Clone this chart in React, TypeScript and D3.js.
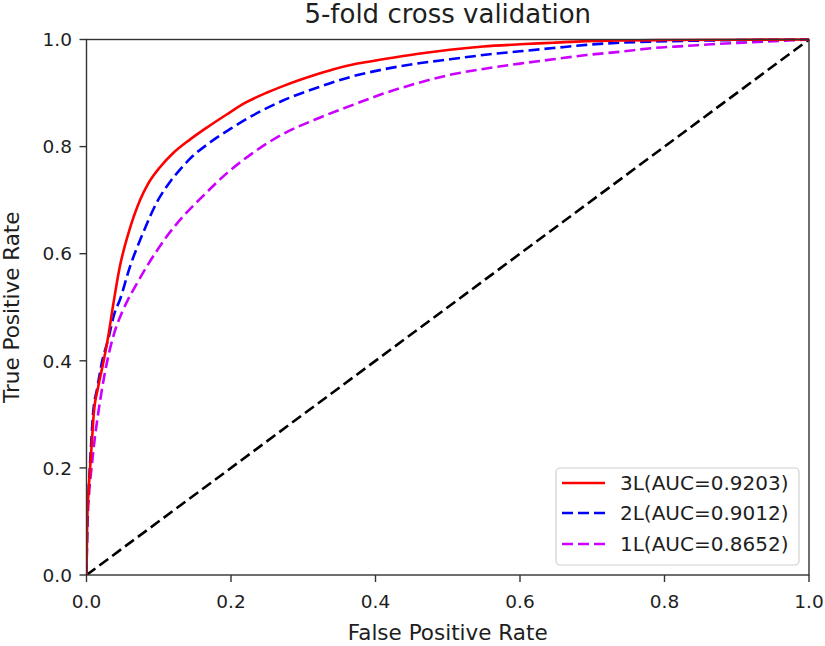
import React from "react";
import * as d3 from "d3";

const title = "5-fold cross validation";
const xLabel = "False Positive Rate";
const yLabel = "True Positive Rate";
const ticks = [0, 0.2, 0.4, 0.6, 0.8, 1.0];

const seriesNames = ["3L(AUC=0.9203)", "2L(AUC=0.9012)", "1L(AUC=0.8652)"];

const roc3L: [number, number][] = [
  [0, 0], [0.001, 0.1], [0.003, 0.16], [0.005, 0.2], [0.008, 0.26], [0.01, 0.3],
  [0.016, 0.35], [0.023, 0.395], [0.03, 0.445], [0.037, 0.505], [0.046, 0.575],
  [0.058, 0.638], [0.074, 0.7], [0.085, 0.73], [0.102, 0.762], [0.12, 0.788],
  [0.143, 0.813], [0.166, 0.835], [0.194, 0.86], [0.22, 0.882], [0.25, 0.901],
  [0.272, 0.913], [0.319, 0.935], [0.341, 0.944], [0.375, 0.955], [0.41, 0.963],
  [0.457, 0.973], [0.503, 0.981], [0.549, 0.987], [0.6, 0.991], [0.646, 0.994],
  [0.692, 0.997], [0.738, 0.998], [0.8, 0.999], [0.9, 0.9995], [1, 1],
];

const roc2L: [number, number][] = [
  [0, 0], [0.001, 0.1], [0.003, 0.16], [0.005, 0.21], [0.009, 0.3], [0.015, 0.35],
  [0.021, 0.395], [0.03, 0.44], [0.039, 0.49], [0.046, 0.513], [0.06, 0.575],
  [0.078, 0.638], [0.099, 0.7], [0.115, 0.733], [0.13, 0.758], [0.143, 0.777],
  [0.168, 0.805], [0.199, 0.833], [0.226, 0.855], [0.272, 0.886], [0.319, 0.91],
  [0.365, 0.93], [0.41, 0.944], [0.457, 0.955], [0.503, 0.963], [0.549, 0.971],
  [0.6, 0.978], [0.646, 0.984], [0.692, 0.99], [0.738, 0.994], [0.784, 0.996],
  [0.85, 0.998], [0.92, 0.999], [1, 1],
];

const roc1L: [number, number][] = [
  [0, 0], [0.001, 0.08], [0.002, 0.116], [0.004, 0.16], [0.007, 0.2], [0.011, 0.25],
  [0.016, 0.3], [0.028, 0.395], [0.038, 0.45], [0.049, 0.49], [0.057, 0.513],
  [0.07, 0.545], [0.083, 0.575], [0.111, 0.632], [0.134, 0.67], [0.16, 0.706],
  [0.194, 0.75], [0.228, 0.786], [0.27, 0.822], [0.319, 0.852], [0.365, 0.876],
  [0.411, 0.899], [0.457, 0.918], [0.503, 0.934], [0.549, 0.945], [0.6, 0.955],
  [0.646, 0.963], [0.692, 0.971], [0.738, 0.977], [0.784, 0.984], [0.83, 0.988],
  [0.876, 0.992], [0.923, 0.995], [0.969, 0.998], [1, 1],
];

const chance: [number, number][] = [[0, 0], [1, 1]];

const W = 825;
const H = 646;
const left = 86.5;
const right = 809;
const top = 39.5;
const bottom = 575;

const FONT = "DejaVu Sans, sans-serif";
const TXT = "#1e1e1e";

export default function App() {
  const x = d3.scaleLinear().domain([0, 1]).range([left, right]);
  const y = d3.scaleLinear().domain([0, 1]).range([bottom, top]);
  const smooth = d3
    .line<[number, number]>()
    .x((d) => x(d[0]))
    .y((d) => y(d[1]))
    .curve(d3.curveMonotoneX);
  const straight = d3
    .line<[number, number]>()
    .x((d) => x(d[0]))
    .y((d) => y(d[1]));

  const series = [
    { data: roc3L, color: "#ff0000", dash: "none", name: seriesNames[0] },
    { data: roc2L, color: "#0000ff", dash: "11 5", name: seriesNames[1] },
    { data: roc1L, color: "#cc00ff", dash: "11 5", name: seriesNames[2] },
  ];

  const legX = 556;
  const legY = 468;
  const rowY = [483, 513, 544];

  return (
    <svg
      width={W}
      height={H}
      style={{ position: "absolute", left: 0, top: 0, background: "#fff" }}
      fontFamily={FONT}
    >
      <rect x={0} y={0} width={W} height={H} fill="#fff" />
      <defs>
        <clipPath id="plot">
          <rect x={left} y={top - 3} width={right - left + 3} height={bottom - top + 3} />
        </clipPath>
      </defs>
      <g clipPath="url(#plot)">
        <path
          d={straight(chance) || ""}
          fill="none"
          stroke="#000"
          strokeWidth={2.6}
          strokeDasharray="11 5"
        />
        {series
          .slice()
          .reverse()
          .map((s) => (
            <path
              key={s.name}
              d={smooth(s.data) || ""}
              fill="none"
              stroke={s.color}
              strokeWidth={2.6}
              strokeDasharray={s.dash}
            />
          ))}
      </g>
      <rect
        x={left}
        y={top}
        width={right - left}
        height={bottom - top}
        fill="none"
        stroke="#333"
        strokeWidth={1.4}
      />
      {ticks.map((t) => (
        <g key={"x" + t}>
          <line x1={x(t)} x2={x(t)} y1={bottom} y2={bottom + 7} stroke="#333" strokeWidth={1.4} />
          <text x={x(t)} y={607.5} textAnchor="middle" fontSize={18.5} fill={TXT}>
            {t.toFixed(1)}
          </text>
        </g>
      ))}
      {ticks.map((t) => (
        <g key={"y" + t}>
          <line x1={left - 7} x2={left} y1={y(t)} y2={y(t)} stroke="#333" strokeWidth={1.4} />
          <text x={72} y={y(t) + 6.7} textAnchor="end" fontSize={18.5} fill={TXT}>
            {t.toFixed(1)}
          </text>
        </g>
      ))}
      <text x={(left + right) / 2} y={23} textAnchor="middle" fontSize={26} fill={TXT}>
        {title}
      </text>
      <text x={(left + right) / 2} y={640} textAnchor="middle" fontSize={21.5} fill={TXT}>
        {xLabel}
      </text>
      <text
        transform={`translate(18.5, ${(top + bottom) / 2}) rotate(-90)`}
        textAnchor="middle"
        fontSize={21.5}
        fill={TXT}
      >
        {yLabel}
      </text>
      <rect
        x={legX}
        y={legY}
        width={243}
        height={97}
        rx={4}
        fill="#fff"
        fillOpacity={0.8}
        stroke="#d0d0d0"
        strokeWidth={1.2}
      />
      {series.map((s, i) => (
        <g key={"leg" + i}>
          <line
            x1={562}
            x2={605}
            y1={rowY[i]}
            y2={rowY[i]}
            stroke={s.color}
            strokeWidth={2.6}
            strokeDasharray={s.dash}
          />
          <text x={620} y={rowY[i] + 7} fontSize={20} fill={TXT}>
            {s.name}
          </text>
        </g>
      ))}
    </svg>
  );
}
